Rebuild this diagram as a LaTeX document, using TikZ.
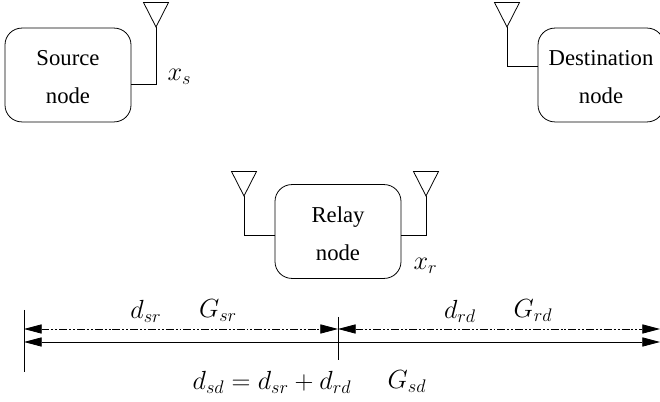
\documentclass[tikz,border=0pt]{standalone}
\usepackage{fontspec}
\setmainfont{Liberation Serif}
\usetikzlibrary{arrows.meta}
\tikzset{
	nodebox/.style={draw, rounded corners=0.45cm, minimum width=3.37cm, minimum height=2.51cm, align=center, font=\LARGE},
	tag/.style={font=\LARGE, scale=1.155, inner sep=0pt},
	span/.style={{Triangle[length=13.5pt,width=7pt]}-{Triangle[length=13.5pt,width=7pt]}},
	dashdots/.style={dash pattern=on 6pt off 1.5pt on 1.5pt off 1.5pt on 1.5pt off 1.5pt}
}
\newcommand{\antenna}[1]{\draw (#1) -- ++(-12.5,24.5) -- ++(25,0) -- cycle;}
\newcommand{\toprule}{\rule{0pt}{15pt}}
\begin{document}
\begin{tikzpicture}[x=0.02675cm, y=0.02675cm, line width=0.6pt]
	\useasboundingbox (0,0) rectangle (660,402);

	\node [nodebox] (source) at (68,327) {\toprule Source\\[7pt]node};
	\node [nodebox] (dest) at (601,327) {\toprule Destination\\[7pt]node};
	\node [nodebox] (relay) at (338,170.5) {\toprule Relay\\[7pt]node};

	\coordinate (antS) at (156,375);
	\coordinate (antD) at (507,375);
	\coordinate (antRl) at (244,206);
	\coordinate (antRr) at (426,206);
	\antenna{antS}
	\antenna{antD}
	\antenna{antRl}
	\antenna{antRr}

	\coordinate (portS) at (131,318);
	\coordinate (portD) at (538,336);
	\coordinate (portRl) at (275,167);
	\coordinate (portRr) at (401,167);
	\draw (portS) -| (antS);
	\draw (portD) -| (antD);
	\draw (portRl) -| (antRl);
	\draw (portRr) -| (antRr);

	\node [tag] (xs) at (179.5,325) {$x_s$};
	\node [tag] (xr) at (425.5,136) {$x_r$};

	% distance axis
	\coordinate (barLt) at (24,92);
	\coordinate (barLb) at (24,30);
	\coordinate (barMt) at (338,85);
	\coordinate (barMb) at (338,42);
	\coordinate (dashL) at (24,73);
	\coordinate (dashM) at (338,73);
	\coordinate (dashR) at (660,73);
	\coordinate (lineL) at (24,60);
	\coordinate (lineR) at (660,60);
	\draw (barLt) -- (barLb);
	\draw (barMt) -- (barMb);
	\draw [span, dashdots] (dashL) -- (dashM);
	\draw [span, dashdots] (dashM) -- (dashR);
	\draw [span] (lineL) -- (lineR);

	\node [tag] (dsr) at (146,91) {$d_{sr}$};
	\node [tag] (gsr) at (218,91) {$G_{sr}$};
	\node [tag] (drd) at (460,91) {$d_{rd}$};
	\node [tag] (grd) at (533,91) {$G_{rd}$};
	\node [tag] (dsd) at (272,20) {$d_{sd} = d_{sr} + d_{rd}$};
	\node [tag] (gsd) at (407,20) {$G_{sd}$};
\end{tikzpicture}
\end{document}
